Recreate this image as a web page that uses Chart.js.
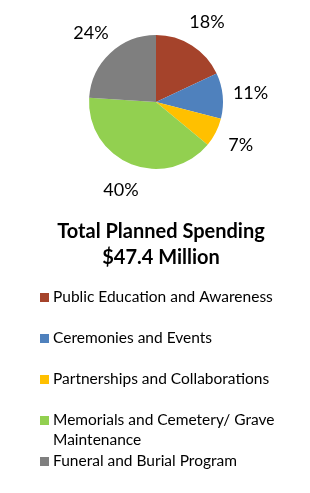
<!DOCTYPE html>
<html lang="en">
<head>
  <meta charset="UTF-8">
  <title>Total Planned Spending</title>
  <style>
    html, body {
      margin: 0;
      padding: 0;
      background: #fff;
    }
    #wrap {
      width: 310px;
      height: 493px;
      position: relative;
    }
  </style>
</head>
<body>
  <div id="wrap">
    <canvas id="spending-chart" width="310" height="493"></canvas>
  </div>

  <script src="https://cdn.jsdelivr.net/npm/chart.js"></script>
  <script>
    // Chart data
    const categories = [
      'Public Education and Awareness',
      'Ceremonies and Events',
      'Partnerships and Collaborations',
      'Memorials and Cemetery/ Grave Maintenance',
      'Funeral and Burial Program'
    ];
    const shares = [18, 11, 7, 40, 24];
    const sliceColors = ['#A5432B', '#4F81BD', '#FFC000', '#92D050', '#7F7F7F'];
    const titleLines = ['Total Planned Spending', '$47.4 Million'];

    const FONT = 'Lato, "Open Sans", sans-serif';

    // percentage labels outside each slice
    const outsideLabels = {
      id: 'outsideLabels',
      afterDatasetsDraw(chart) {
        const ctx = chart.ctx;
        const meta = chart.getDatasetMeta(0);
        ctx.save();
        ctx.font = '18px ' + FONT;
        ctx.fillStyle = '#000';
        ctx.textAlign = 'center';
        ctx.textBaseline = 'middle';
        meta.data.forEach((arc, i) => {
          const p = arc.getProps(['x', 'y', 'startAngle', 'endAngle', 'outerRadius'], true);
          const mid = (p.startAngle + p.endAngle) / 2;
          const r = p.outerRadius + 28;
          ctx.fillText(shares[i] + '%', p.x + Math.cos(mid) * r, p.y + Math.sin(mid) * r);
        });
        ctx.restore();
      }
    };

    // title and legend below the pie
    const titleAndLegend = {
      id: 'titleAndLegend',
      afterDraw(chart) {
        const ctx = chart.ctx;
        ctx.save();
        ctx.fillStyle = '#000';
        ctx.textAlign = 'center';
        ctx.textBaseline = 'middle';
        ctx.font = 'bold 20px ' + FONT;
        titleLines.forEach((t, i) => ctx.fillText(t, 161, 232 + i * 26));

        ctx.font = '15.5px ' + FONT;
        ctx.textAlign = 'left';
        let y = 297;
        categories.forEach((label, i) => {
          // simple word wrap
          const words = label.split(' ');
          const lines = [];
          let line = '';
          words.forEach(w => {
            const test = line ? line + ' ' + w : w;
            if (ctx.measureText(test).width > 236 && line) {
              lines.push(line);
              line = w;
            } else {
              line = test;
            }
          });
          lines.push(line);

          ctx.fillStyle = sliceColors[i];
          ctx.fillRect(40, y - 4, 9, 9);
          ctx.fillStyle = '#000';
          lines.forEach((l, j) => ctx.fillText(l, 53, y + j * 20));
          y += 41;
        });
        ctx.restore();
      }
    };

    new Chart(document.getElementById('spending-chart'), {
      type: 'pie',
      data: {
        labels: categories,
        datasets: [{
          data: shares,
          backgroundColor: sliceColors,
          borderWidth: 0
        }]
      },
      options: {
        responsive: false,
        animation: false,
        layout: {
          padding: { top: 35, bottom: 324, left: 89, right: 87 }
        },
        plugins: {
          legend: { display: false },
          title: { display: false },
          tooltip: { enabled: false }
        }
      },
      plugins: [outsideLabels, titleAndLegend]
    });
  </script>
</body>
</html>
